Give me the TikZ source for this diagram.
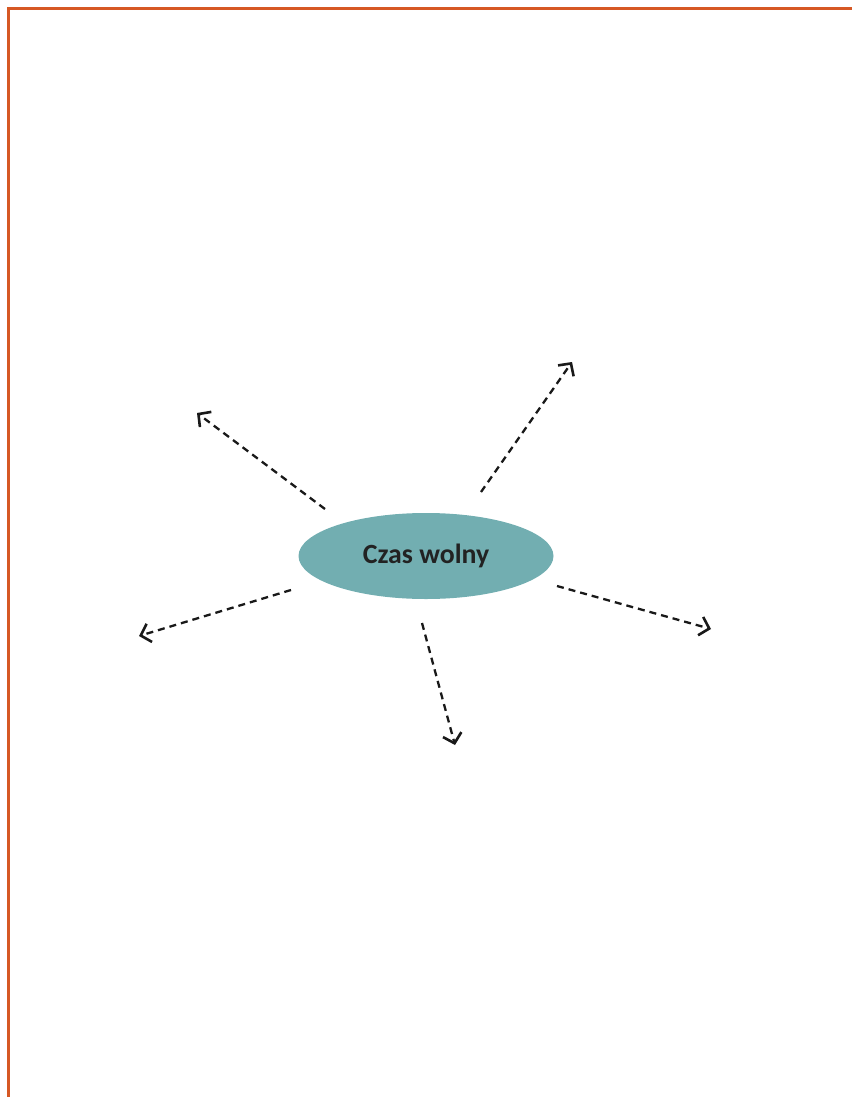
\documentclass[tikz,border=0pt]{standalone}
\usepackage{fontspec}
\setmainfont{Carlito}
\usetikzlibrary{arrows.meta}
\definecolor{frameorange}{RGB}{214,88,36}
\definecolor{tealfill}{RGB}{114,174,177}
\definecolor{darktext}{RGB}{34,34,34}
\tikzset{
  spoke/.style={draw=black!90, line width=2.3pt, dash pattern=on 7pt off 5pt,
    -{Straight Barb[length=9pt,width=19pt,line width=2.6pt]}},
  centre/.style={ellipse, fill=tealfill, minimum width=255pt, minimum height=86pt,
    inner sep=0pt, font=\bfseries\fontsize{27.8}{30}\selectfont, text=darktext}
}
\usetikzlibrary{shapes.geometric}
\begin{document}
\begin{tikzpicture}[x=1pt,y=-1pt]
\useasboundingbox (0,0) rectangle (851,1097);
\draw[frameorange, line width=3.2pt] (8.5,1110) -- (8.5,8.5) -- (870,8.5);
\node[centre] (c) at (426,556) {Czas wolny};
\coordinate (s1) at (325,509); \coordinate (e1) at (197,413);
\coordinate (s2) at (481,492); \coordinate (e2) at (572,362);
\coordinate (s3) at (291,590); \coordinate (e3) at (139,636);
\coordinate (s4) at (557,586); \coordinate (e4) at (711,629);
\coordinate (s5) at (422,623); \coordinate (e5) at (455,745);
\draw[spoke] (s1) -- (e1);
\draw[spoke] (s2) -- (e2);
\draw[spoke] (s3) -- (e3);
\draw[spoke] (s4) -- (e4);
\draw[spoke] (s5) -- (e5);
\end{tikzpicture}
\end{document}
